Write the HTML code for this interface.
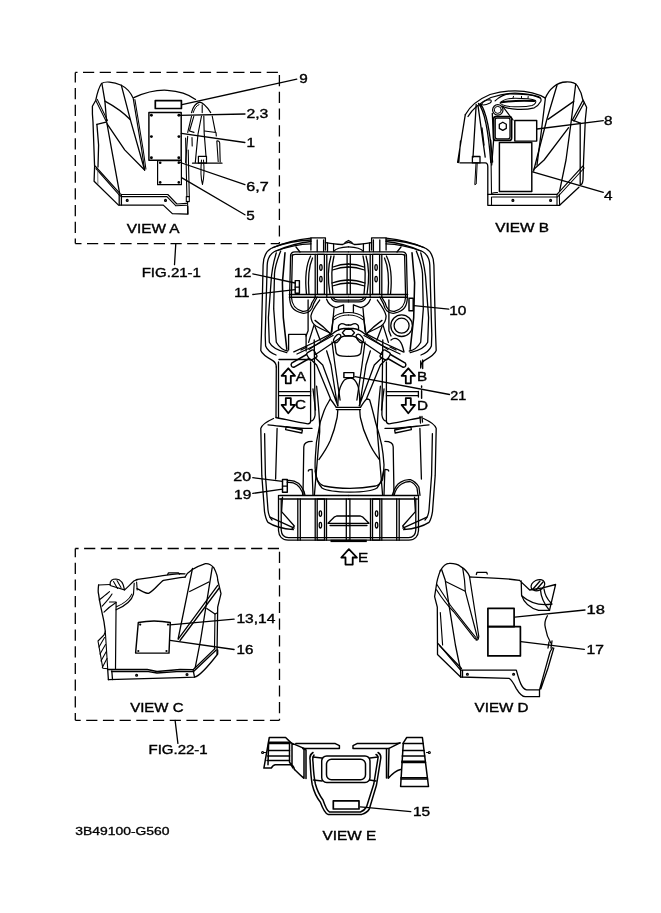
<!DOCTYPE html>
<html><head><meta charset="utf-8"><style>
html,body{margin:0;padding:0;background:#fff;width:661px;height:913px;overflow:hidden}
svg{display:block}
text{font-family:"Liberation Sans",sans-serif;font-size:100px;fill:#000}
</style></head><body>
<svg width="661" height="913" viewBox="0 0 661 913">
<g fill="none" stroke="#000" stroke-width="1.3" stroke-linejoin="round" stroke-linecap="round">
<g stroke-width="1.3"><path d="M75.3 72.4 L279.4 72.4" stroke-dasharray="11.2 5.50" stroke-dashoffset="9.00" stroke-linecap="butt"/>
<path d="M279.4 72.4 L279.4 243.6" stroke-dasharray="11.2 5.50" stroke-dashoffset="14.00" stroke-linecap="butt"/>
<path d="M75.3 243.6 L279.4 243.6" stroke-dasharray="11.2 5.50" stroke-dashoffset="5.00" stroke-linecap="butt"/>
<path d="M75.3 72.4 L75.3 243.6" stroke-dasharray="11.2 5.50" stroke-dashoffset="1.00" stroke-linecap="butt"/>
<path d="M75.3 548.5 L279.5 548.5" stroke-dasharray="11.2 5.50" stroke-dashoffset="7.90" stroke-linecap="butt"/>
<path d="M279.5 548.5 L279.5 720.3" stroke-dasharray="11.2 5.50" stroke-dashoffset="13.40" stroke-linecap="butt"/>
<path d="M75.3 720.3 L279.5 720.3" stroke-dasharray="11.2 5.50" stroke-dashoffset="5.80" stroke-linecap="butt"/>
<path d="M75.3 548.5 L75.3 720.3" stroke-dasharray="11.2 5.50" stroke-dashoffset="2.50" stroke-linecap="butt"/></g>
<path d="M175.8 243.6 L174.5 264.7 M175.1 720.4 L177.9 743.4"/>
<path d="M182 104.7 L296.8 79.2 M178.9 115.3 L245 114 M181.4 133.4 L244.9 142.5 M178.8 162 L244.9 184.7 M182 177.9 L244.9 214.8"/>
<path d="M537 129 L603.3 120.7 M532.6 171.9 L603.3 192.4"/>
<path d="M252.8 273.9 L295.2 283 M252.8 294.5 L295.2 289.7 M414 305.7 L448.8 309.2 M355 376.6 L449.5 394.5 M252.8 477.7 L282.5 481.3 M252.8 493.4 L282.5 489.2"/>
<path d="M170 624.9 L234.1 619.1 M170 640.4 L234.1 649.5 M514.8 617.2 L585 610 M520.9 641.7 L584.3 649.4 M360.4 806.9 L410.8 811.7"/>
<g>
<path d="M101.5 83.5 C104.5 81.2 113 81.5 121.3 85.2 C127 88 131 93 133.2 98.3 L141.7 149.9 L144.6 170" stroke-width="1.15"/>
<path d="M134.9 99.6 L143.2 150 L145.9 169" stroke-width="1.05"/>
<path d="M101.5 83.5 C98.5 88 96.8 95 95.8 100.2 L92.4 106.2 C92.2 112 92.6 118 93 122 L94.6 166.6"/>
<path d="M102 84 L104.9 101.1 L106.6 121.5 L111.7 149.9 L119.6 193.2"/>
<path d="M104.9 101.1 C114 106 123 112 130.4 119.8"/>
<path d="M121.3 85.2 L130.4 119.8 L144.6 170"/>
<path d="M107.1 123.8 L124.7 149.9 L144.6 170"/>
<path d="M95.8 100.5 L106 121 M97.3 99.4 L107.5 120.4" stroke-width="1.05"/>
<path d="M96.9 124.4 L106 122.1"/>
<path d="M96.9 124.4 L98.6 145 L98 167"/>
<path d="M94.6 166.6 L94.1 181.3 L118.5 205.1 L163.3 205.1 L172.3 213.6 L187.7 214.2 L187.7 206.3"/>
<path d="M95.1 166 L120.3 193.9 L121.5 194.5 L167.8 194.5 L176.9 204 L186.5 203.4" stroke-width="1.15"/>
<path d="M96 168.6 L119.4 195.2 L121.5 196.6 L166.9 196.6 L176 205.8 L186.5 205.3" stroke-width="1.15"/>
<path d="M97.7 171 L97.9 183.6" stroke-width="1" stroke="#777"/>
<path d="M119.2 194.4 L119.2 205.1 M121.4 195.5 L121.4 205.1"/>
<circle cx="127.2" cy="200.4" r="0.9"/><circle cx="165.5" cy="200.4" r="0.9"/>
<path d="M133.8 97.7 C145 92.5 158 89.8 167.2 90.3 C179 91 189 94.5 195.6 99.4"/>
<rect x="155.3" y="100.6" width="26.1" height="7.9" stroke-width="1.7"/>
<rect x="148.9" y="112.4" width="32.3" height="47.9" stroke-width="1.45"/>
<rect x="157.6" y="160.6" width="23.8" height="24.1" stroke-width="1.2"/>
<g fill="#000" stroke="none">
<circle cx="151.4" cy="115.3" r="1.45"/><circle cx="178.9" cy="115.3" r="1.45"/>
<circle cx="151.4" cy="136.6" r="1.45"/><circle cx="178.9" cy="136.6" r="1.45"/>
<circle cx="151.4" cy="157.7" r="1.45"/><circle cx="178.8" cy="157.7" r="1.45"/>
<circle cx="160.2" cy="162.8" r="1.3"/><circle cx="178.8" cy="162.8" r="1.3"/>
<circle cx="160.2" cy="182.4" r="1.3"/><circle cx="178.8" cy="182.4" r="1.3"/>
</g>
<path d="M185.6 138 L186.9 196.6 M188.2 150 L189.3 196.6 M187.5 201.4 L188 214" stroke-width="1.1"/>
<rect x="186.3" y="196.6" width="3" height="5" stroke-width="1.1"/>
<path d="M191.5 112.6 C193 107 196 103.2 199.5 102.2 C203 102.5 207 107 210.7 112.6" stroke-width="1.2"/>
<path d="M193.2 112.6 C194.5 108.5 196.5 105.5 199 104.6" stroke-width="1"/>
<path d="M202.2 104.9 L202.2 112.6" stroke-width="1.1"/>
<path d="M191.5 116.4 L187.7 132.5 M193.8 116.4 L189.5 131 L194 132.4" stroke-width="1.1"/>
<path d="M201.5 116 L198 134 L195.3 162.4" stroke-width="1.15"/>
<path d="M203.8 116 L204.2 133.3 L206 156.3" stroke-width="1.15"/>
<path d="M212.2 116 L215.3 131.7 M204.5 131 L216 132.5 L216.3 136" stroke-width="1.15"/>
<path d="M187.7 136.3 L185.6 162.4 M192 137.5 L192.2 146" stroke-width="1.1"/>
<path d="M216.8 141 C218.5 140.5 219.5 141.5 219.7 143 L220.2 162 M216.8 141 L218.2 161.5" stroke-width="1.1"/>
<path d="M192.5 163.2 L222 163.2" stroke-width="1.2"/>
<rect x="198.4" y="156.3" width="8.1" height="6.9" stroke-width="1.2"/>
<path d="M201.5 160 C200.5 170 201 179 202.5 184.5 C204 178 204.3 168 203.5 160" stroke-width="1.05"/>
</g>
<g>
<path d="M465.3 114.7 C470 106 478 99.5 490 94.5 C500 91.5 508 90.8 515 90.8 C528 91 538 93.5 545.4 98.1"/>
<path d="M468 116.5 C473 108 480 102.5 491 97.5 C500 94.5 508 93.2 515 93.2 C526 93.4 534 95.3 540 98"/>
<path d="M465.3 114.7 L457.6 162.3 M460.5 141 L458.8 162.5"/>
<path d="M476.2 104.4 L473 157.2 M478 105.7 L485.2 157.2"/>
<path d="M478.5 103.5 C484 110 488 125 490.8 162.5 M480.5 104 C486 111 489.8 126 492.6 162"/>
<path d="M482 128 L484 145"/>
<rect x="472.4" y="156.5" width="7.6" height="6.4"/>
<path d="M476 163 L474.8 184.7 L476.2 184 L477.2 163" stroke-width="1"/>
<path d="M460.1 162.9 L485.2 162.9 Q487.8 163 487.8 166.7 L487.8 205.3 L559.6 205.3 L578.9 187.3"/>
<path d="M487.8 194.4 L557 194.4 L582.7 166.1" stroke-width="1.2"/>
<path d="M492.5 197 L557.5 197 L584.2 168" stroke-width="1.1"/>
<path d="M557 194.4 L557 205.3 M559.3 194 L559.6 205.3" stroke-width="1.1"/>
<path d="M490.8 140 L491.5 193.5 C493 192.8 495 192.3 497.5 192.5 M491.5 197 L491.5 205.3" stroke-width="1.1"/>
<circle cx="512.9" cy="200.4" r="0.9"/><circle cx="550.6" cy="200.4" r="0.9"/>
<path d="M495.1 100.9 C500 96 505 94 510 93.8 C520 93.8 532 94.5 538.5 96.6 C541 97.5 541.5 100 540.7 101.5 C539 104.5 537 106.5 534.3 107.8 C528 109.5 522 109.6 517.4 109.4 C511 109 506 108 502.5 106.2" stroke-width="1.2"/>
<path d="M500 103 C503 99.5 508 98.2 515 98.2 C524 98.2 532 98.8 535.5 100.5 C536.5 102 535 104.5 532 105.6 C526 107 518 107 510 106.5 C505 106 501.5 105 500 103" stroke-width="1.05"/>
<path d="M501.5 102.2 C510 101 525 100.6 534.3 101" stroke-width="2"/>
<path d="M513 98 L513.5 96.3 M521.5 98 L521.5 96.3 M528 98.2 L528.2 96.5" stroke-width="1"/>
<path d="M481.4 104.6 C483 101.5 487 99.8 490 99.8 C492 100.2 491.5 102 490 103 C487 104.5 483.5 105.5 481.4 104.6" stroke-width="1.1"/>
<circle cx="497.8" cy="109.9" r="5.2" stroke-width="1.2"/><circle cx="497.8" cy="109.9" r="3.5" stroke-width="1"/>
<path d="M502.5 106.2 L513.1 120" stroke-width="1.2"/>
<rect x="493.6" y="116.6" width="18" height="23.8" rx="2.5" stroke-width="1.7"/>
<rect x="495.2" y="118.2" width="14.8" height="20.6" rx="1.8"/>
<path d="M502.8 122.2 L506.3 124.3 L506.3 128.4 L502.8 130.4 L499.3 128.4 L499.3 124.3 Z"/>
<rect x="514.8" y="120.5" width="21.9" height="20.6" stroke-width="1.45"/>
<rect x="499.4" y="142.4" width="32.4" height="49" stroke-width="1.45"/>
<path d="M492.3 113.4 L493.6 140.4 L491.7 165"/>
<path d="M545.4 98.1 C549 89 557 82.2 566 82 C571 81.8 575.5 83 577.5 86 C580 90 582 95 582.7 99.4 L586.6 107.2 L585.3 120 L583.6 160 L583 180 C582.5 184 581.5 185 580.2 184.5 L580.2 123.2"/>
<path d="M545.4 98.1 L541.5 130 L537 165"/>
<path d="M557 85.3 L546.7 120 L536.4 160 L533.6 171"/>
<path d="M575.7 84 L571.2 121.3 L566 160 L559.6 191.2"/>
<path d="M573.7 101.4 L548 119.4"/>
<path d="M582.7 100.7 L572.4 120 M584.3 102.5 L574 121.3"/>
<path d="M572.4 120 L580.2 123.2"/>
<path d="M568.6 127.7 L544.1 160 L533.9 169.3"/>
</g>
<g>
<path d="M310.9 238.2 C298 239.5 282 243.5 271 248.5 C265.5 251.5 263.4 257 263.1 265 L262.3 300 L261.4 335 L260.8 350.5 C262.5 355 268 358 272.8 360.6 C275 362 276.3 364 276.3 367"/>
<path d="M311 241.5 C298 242.8 285 247 274.5 251.5 C270 254 267.6 258 267.2 265 L266.2 300 L265.2 335 L265.6 346 C267.5 351 271 353 276 355"/>
<path d="M276.3 252.8 C273.5 262 271.5 272 271 282.6 L268.4 317.6 L269.3 342.2 C272 348 280 351 286.8 352.7"/>
<path d="M280.7 251 C277.5 259 275 266 274.5 273.8 L273.7 308.9 L276.3 342.2 C279 347 283 350 287.7 351"/>
<path d="M285 252.8 L282.4 282.6 L283.3 317.6 L286.8 349.2" stroke-width="1.55"/>
<path d="M272.8 247.5 C286 242.5 298 240.5 311 240 M276 251 C288 246.5 300 244 311 243.8 M296 247 L300 252"/>
<path d="M310.9 250 L310.9 237.8 L325.4 237.8 L325.4 250"/>
<path d="M317.2 240 L317.2 251.5 M323.6 240 L323.6 251.5"/>
<path d="M325.4 242.7 C332 243.5 338 244.5 342.6 244.5 C345 243 347 242.5 348.5 242.3"/>
<path d="M327.5 243 L327.5 251.5 M333.6 244 L333.6 251.5"/>
<path d="M333.6 251.5 C336 248 340 247 348.5 246.8"/>
<path d="M290.6 255 L289.6 297 C289.8 306 292.5 311 302.6 313.2 C309 314 312.5 309 313.6 303.6 L317.2 297"/>
<path d="M292.4 255 L291.4 297 C291.8 304.5 294.5 309 302.6 311.4 C307.5 312 310.8 308 311.8 303 L315.4 297"/>
<path d="M290.6 256 Q290.6 251.8 295 251.8 L348.5 251.8 M292.4 256 Q292.4 254.4 295.5 254.4 L348.5 254.4"/>
<path d="M289.4 294.4 L348.5 294.4 M289.4 297.2 L348.5 297.2" stroke-width="1.45"/>
<rect x="317.4" y="254.4" width="7" height="40"/>
<path d="M315.2 254.4 L315.2 297 M326.8 254.4 L326.8 297"/>
<ellipse cx="320.9" cy="267.5" rx="1.2" ry="2.8"/><ellipse cx="320.9" cy="279.1" rx="1.2" ry="2.8"/>
<path d="M331 256 C328 266 328 282 330 294.4 M334 256 C331.5 266 331.5 282 333 294.4"/>
<path d="M333 267 C338 265 343 264 348.5 264 M332.5 270 C338 268 343 267 348.5 267"/>
<path d="M332 283 C338 281 343 280 348.5 280 M332.5 286 C338 284 343 283 348.5 283"/>
<path d="M331 297.2 C332 300 334 301.8 338 301.8 L348.5 301.8 M333 297.2 C334 299 335.5 300.2 338 300.2 L348.5 300.2"/>
<path d="M310.6 256 C306 265 305 280 306.5 294.4 M312.5 258 C308.5 267 308 282 309 294.4"/>
<path d="M326.6 299.2 C328 303 331 306.5 336.2 307.7 L343.6 304.8 L343.6 312.5"/>
<path d="M333.5 317.2 C337 314 342 312.5 348.5 312.5 M334.2 319.6 C338 316.6 342 315 348.5 315" stroke-width="1.15"/>
<path d="M333.5 317.2 L330.9 334.2"/>
<path d="M338.8 330 C338 327 338.5 324.5 341 323.8 C343 323.4 345 324.5 346 325 L348.5 325"/>
<path d="M334.6 341.6 L336.2 353 C337 355.5 340 356.4 346.8 356.4 L348.5 356.4"/>
<path d="M315 320.4 C320 324 326 329 330.9 334.2"/>
<path d="M309 349.5 L331.9 334.2 C335 331.5 340 328.8 344 328.5 L348.5 328.3"/>
<path d="M315.5 354.5 L338.5 339 C340.5 337 343 335.8 348.5 335.6"/>
<ellipse cx="337.2" cy="338.4" rx="2.6" ry="4.8" transform="rotate(35 337.2 338.4)"/>
<path d="M291.6 363.2 L306.5 354.5 M293.8 367.3 L309.2 358.5 M291.6 363.2 C290.5 365 291.5 367.5 293.8 367.3" stroke-width="1.45"/>
<rect x="307.6" y="350.8" width="8.4" height="8.4" rx="1.8" transform="rotate(-30 311.8 355)"/>
<path d="M293.8 351.9 L313 343 L330.8 333.9 M297 354 L316 345 L333 335.5"/>
<path d="M301 350 L307 347"/>
<path d="M310.7 359.3 L316.6 365 L330.3 398.3 M314.9 357.5 L322.7 365 L337.8 405.8 M326.6 350.8 L331 365 L337 403 M332 342 L335 365 L340.1 400"/>
<path d="M319.7 300 C316 305 311.5 311 310.9 316 C311 321 313 324 316 326 C321 329 326 331 329.8 333"/>
<path d="M308.1 300 L308.1 330.7 L306 336"/>
<path d="M313.9 325.4 L308.6 342.4 M315 326.5 L320.2 340.2"/>
<path d="M334 308.5 L331.9 331.8"/>
<path d="M310.6 362 L310.6 421.2 M314.2 340 L315.1 415 C314.5 419 313 421 310.6 421.2"/>
<path d="M279 391.6 L310.6 391.6 M279 395.7 L310.6 395.7"/>
<path d="M276 417.5 C286 419.5 298 422.5 307.9 423.9 C310 423.5 310.6 422.5 310.6 421.2"/>
<path d="M273.5 418.5 C268 421 262 424 260.8 428.4 L261.8 475.4 L264.5 511.6 C265.5 518 267 521 268 522.4 C275 527 285 529 293.4 529.7"/>
<path d="M264.6 433.6 L265.4 475 L268 510 C268.5 515 270 518 272 520"/>
<path d="M277.1 428.4 L275.6 479"/>
<path d="M268 424.8 C280 426 295 428.4 304.2 428.4 L312 428.4"/>
<path d="M286.2 426.6 L302.4 430 L301.8 433 L285.6 429.6 Z"/>
<path d="M303.8 446.7 C304 443 307 441.4 312.1 441.4 M303.8 446.7 L303 495.3"/>
<path d="M308.3 471 C308.3 469.5 310 469.4 312.1 469.4 L313 495.3"/>
<path d="M316.6 386.2 C318 400 320 420 319.7 431.6 L314.4 495.1 M313 389 L315.5 410"/>
<path d="M282.5 497.1 L281.6 511.6 L294.3 526 L292 529"/>
<path d="M270 517.2 L294.2 528.1"/>
<path d="M279.7 495.4 L348.5 495.4 M279.7 499 L348.5 499" stroke-width="1.45"/>
<path d="M278.5 495.4 L278.5 530.5 C278.8 536 282 540.2 288.2 540.2 L348.5 540.2"/>
<path d="M281.2 499 L281.2 530 C281.5 534.5 284 537.5 288.5 537.6 L348.5 537.6"/>
<path d="M297.8 499 L297.8 540.2 M300.3 499 L300.3 540.2"/>
<rect x="317.2" y="499" width="7.3" height="41.2"/>
<path d="M315.2 499 L315.2 540.2 M326.5 499 L326.5 540.2"/>
<ellipse cx="320.4" cy="513.6" rx="1.2" ry="2.8"/><ellipse cx="320.4" cy="525.2" rx="1.2" ry="2.8"/>
<path d="M328 523.3 L334.1 517.2 L336.6 516 L348.5 516 M330 525.5 L348.5 525.5 M328 523.3 L348.5 523.3"/>
</g>
<g transform="translate(697,0) scale(-1,1)">
<path d="M310.9 238.2 C298 239.5 282 243.5 271 248.5 C265.5 251.5 263.4 257 263.1 265 L262.3 300 L261.4 335 L260.8 350.5 C262.5 355 268 358 272.8 360.6 C275 362 276.3 364 276.3 367"/>
<path d="M311 241.5 C298 242.8 285 247 274.5 251.5 C270 254 267.6 258 267.2 265 L266.2 300 L265.2 335 L265.6 346 C267.5 351 271 353 276 355"/>
<path d="M276.3 252.8 C273.5 262 271.5 272 271 282.6 L268.4 317.6 L269.3 342.2 C272 348 280 351 286.8 352.7"/>
<path d="M280.7 251 C277.5 259 275 266 274.5 273.8 L273.7 308.9 L276.3 342.2 C279 347 283 350 287.7 351"/>
<path d="M285 252.8 L282.4 282.6 L283.3 317.6 L286.8 349.2" stroke-width="1.55"/>
<path d="M272.8 247.5 C286 242.5 298 240.5 311 240 M276 251 C288 246.5 300 244 311 243.8 M296 247 L300 252"/>
<path d="M310.9 250 L310.9 237.8 L325.4 237.8 L325.4 250"/>
<path d="M317.2 240 L317.2 251.5 M323.6 240 L323.6 251.5"/>
<path d="M325.4 242.7 C332 243.5 338 244.5 342.6 244.5 C345 243 347 242.5 348.5 242.3"/>
<path d="M327.5 243 L327.5 251.5 M333.6 244 L333.6 251.5"/>
<path d="M333.6 251.5 C336 248 340 247 348.5 246.8"/>
<path d="M290.6 255 L289.6 297 C289.8 306 292.5 311 302.6 313.2 C309 314 312.5 309 313.6 303.6 L317.2 297"/>
<path d="M292.4 255 L291.4 297 C291.8 304.5 294.5 309 302.6 311.4 C307.5 312 310.8 308 311.8 303 L315.4 297"/>
<path d="M290.6 256 Q290.6 251.8 295 251.8 L348.5 251.8 M292.4 256 Q292.4 254.4 295.5 254.4 L348.5 254.4"/>
<path d="M289.4 294.4 L348.5 294.4 M289.4 297.2 L348.5 297.2" stroke-width="1.45"/>
<rect x="317.4" y="254.4" width="7" height="40"/>
<path d="M315.2 254.4 L315.2 297 M326.8 254.4 L326.8 297"/>
<ellipse cx="320.9" cy="267.5" rx="1.2" ry="2.8"/><ellipse cx="320.9" cy="279.1" rx="1.2" ry="2.8"/>
<path d="M331 256 C328 266 328 282 330 294.4 M334 256 C331.5 266 331.5 282 333 294.4"/>
<path d="M333 267 C338 265 343 264 348.5 264 M332.5 270 C338 268 343 267 348.5 267"/>
<path d="M332 283 C338 281 343 280 348.5 280 M332.5 286 C338 284 343 283 348.5 283"/>
<path d="M331 297.2 C332 300 334 301.8 338 301.8 L348.5 301.8 M333 297.2 C334 299 335.5 300.2 338 300.2 L348.5 300.2"/>
<path d="M310.6 256 C306 265 305 280 306.5 294.4 M312.5 258 C308.5 267 308 282 309 294.4"/>
<path d="M326.6 299.2 C328 303 331 306.5 336.2 307.7 L343.6 304.8 L343.6 312.5"/>
<path d="M333.5 317.2 C337 314 342 312.5 348.5 312.5 M334.2 319.6 C338 316.6 342 315 348.5 315" stroke-width="1.15"/>
<path d="M333.5 317.2 L330.9 334.2"/>
<path d="M338.8 330 C338 327 338.5 324.5 341 323.8 C343 323.4 345 324.5 346 325 L348.5 325"/>
<path d="M334.6 341.6 L336.2 353 C337 355.5 340 356.4 346.8 356.4 L348.5 356.4"/>
<path d="M315 320.4 C320 324 326 329 330.9 334.2"/>
<path d="M309 349.5 L331.9 334.2 C335 331.5 340 328.8 344 328.5 L348.5 328.3"/>
<path d="M315.5 354.5 L338.5 339 C340.5 337 343 335.8 348.5 335.6"/>
<ellipse cx="337.2" cy="338.4" rx="2.6" ry="4.8" transform="rotate(35 337.2 338.4)"/>
<path d="M291.6 363.2 L306.5 354.5 M293.8 367.3 L309.2 358.5 M291.6 363.2 C290.5 365 291.5 367.5 293.8 367.3" stroke-width="1.45"/>
<rect x="307.6" y="350.8" width="8.4" height="8.4" rx="1.8" transform="rotate(-30 311.8 355)"/>
<path d="M293.8 351.9 L313 343 L330.8 333.9 M297 354 L316 345 L333 335.5"/>
<path d="M301 350 L307 347"/>
<path d="M310.7 359.3 L316.6 365 L330.3 398.3 M314.9 357.5 L322.7 365 L337.8 405.8 M326.6 350.8 L331 365 L337 403 M332 342 L335 365 L340.1 400"/>
<path d="M319.7 300 C316 305 311.5 311 310.9 316 C311 321 313 324 316 326 C321 329 326 331 329.8 333"/>
<path d="M308.1 300 L308.1 330.7 L306 336"/>
<path d="M313.9 325.4 L308.6 342.4 M315 326.5 L320.2 340.2"/>
<path d="M334 308.5 L331.9 331.8"/>
<path d="M310.6 362 L310.6 421.2 M314.2 340 L315.1 415 C314.5 419 313 421 310.6 421.2"/>
<path d="M279 391.6 L310.6 391.6 M279 395.7 L310.6 395.7"/>
<path d="M276 417.5 C286 419.5 298 422.5 307.9 423.9 C310 423.5 310.6 422.5 310.6 421.2"/>
<path d="M273.5 418.5 C268 421 262 424 260.8 428.4 L261.8 475.4 L264.5 511.6 C265.5 518 267 521 268 522.4 C275 527 285 529 293.4 529.7"/>
<path d="M264.6 433.6 L265.4 475 L268 510 C268.5 515 270 518 272 520"/>
<path d="M277.1 428.4 L275.6 479"/>
<path d="M268 424.8 C280 426 295 428.4 304.2 428.4 L312 428.4"/>
<path d="M286.2 426.6 L302.4 430 L301.8 433 L285.6 429.6 Z"/>
<path d="M303.8 446.7 C304 443 307 441.4 312.1 441.4 M303.8 446.7 L303 495.3"/>
<path d="M308.3 471 C308.3 469.5 310 469.4 312.1 469.4 L313 495.3"/>
<path d="M316.6 386.2 C318 400 320 420 319.7 431.6 L314.4 495.1 M313 389 L315.5 410"/>
<path d="M282.5 497.1 L281.6 511.6 L294.3 526 L292 529"/>
<path d="M270 517.2 L294.2 528.1"/>
<path d="M279.7 495.4 L348.5 495.4 M279.7 499 L348.5 499" stroke-width="1.45"/>
<path d="M278.5 495.4 L278.5 530.5 C278.8 536 282 540.2 288.2 540.2 L348.5 540.2"/>
<path d="M281.2 499 L281.2 530 C281.5 534.5 284 537.5 288.5 537.6 L348.5 537.6"/>
<path d="M297.8 499 L297.8 540.2 M300.3 499 L300.3 540.2"/>
<rect x="317.2" y="499" width="7.3" height="41.2"/>
<path d="M315.2 499 L315.2 540.2 M326.5 499 L326.5 540.2"/>
<ellipse cx="320.4" cy="513.6" rx="1.2" ry="2.8"/><ellipse cx="320.4" cy="525.2" rx="1.2" ry="2.8"/>
<path d="M328 523.3 L334.1 517.2 L336.6 516 L348.5 516 M330 525.5 L348.5 525.5 M328 523.3 L348.5 523.3"/>
</g>
<path d="M347.1 254.4 L347.1 294.4 M350.3 254.4 L350.3 294.4" />
<path d="M346.3 499 L346.3 540.2 M349.9 499 L349.9 540.2"/>
<path d="M342.4 332.7 L345.4 329.3 L351.4 329.3 L354.5 332.7 L351.4 336.1 L345.4 336.1 Z"/>
<rect x="343.9" y="372.6" width="9.9" height="5" stroke-width="1.45"/>
<path d="M345 242.5 L348.5 240.5 L352 242.5"/>
<rect x="330.5" y="539.7" width="36.3" height="2.4" fill="#000" stroke="none"/>
<path d="M337.8 405.8 C338 396 339 391 340.1 387.7 C342 383 344 380 345.4 379.4 C347 378 351 378 353 378.6 C355 380 357 383 358.2 386.9 C359.5 392 359.8 398 359.8 405.8"/>
<path d="M336.3 407.4 L360.5 407.4 M336.3 409.6 L360.5 409.6"/>
<path d="M330.3 399 C328 403 326 406 324.2 410.4 C321 418 319 426 318.2 433.1 C316.5 440 316 445 315.9 449.7 C315.2 458 315 463 315.1 467.9 C315.5 472 316.2 477 317.4 480 C319 483 321 485 324.2 486 C333 487.8 342 488.3 350 488.3 C358 488.3 367 487.5 375.6 486 C379 485 381 482.5 382.5 480 C383.5 475 384 470 384 464.8 C383.5 457 382.8 451 381.7 445.2 C380 437 378 430 375.6 422.5 C373.5 414 371.5 406 369.6 399.8 C368.8 399.3 367.5 399 366.6 399"/>
<path d="M330.3 399 C332 401 334 404 336.3 407.4 M366.6 399 C364.5 401 362.5 404 360.5 407.4"/>
<path d="M337.8 410 C337.5 414 337.3 417 337 418 C335 428 333 434 330.3 440.6 C327 448 323 454 318.9 459.6"/>
<path d="M359.8 410 C360 414 360.2 417 360.5 418 C362.5 428 365 434 368.1 440.6 C371 448 375 454 379.4 459.6"/>
<path d="M315.1 470.9 C316 478 318.5 484.5 322 488 C326 490.5 335 492 350 492.1 C365 492 373 490.5 377 488 C380 484.5 382.5 478 383.5 470.9"/>
<path d="M278.5 362 L278.5 417.5 M279 359.5 L310.6 359.5 M418.4 391.4 L418.4 397"/>

<path d="M276.3 367 L276 417.5"/>
<path d="M420.7 361 L420.7 368 M422.7 360 L422.7 368.6 M420 416.5 L420.5 423 M422 416.5 L422.5 422"/>

<path d="M288.6 334.3 L306.1 334.3 L306.1 351 M288.6 334.3 L288.6 350"/>
<path d="M391 340 C396 336 401 340 403 348 L404 352"/>

<rect x="295.2" y="280.6" width="4.2" height="12.7" stroke-width="1.45"/>
<path d="M295.2 287.2 L299.4 287.2"/>
<rect x="282.5" y="479.5" width="4.8" height="12.7" stroke-width="1.45"/>
<path d="M282.5 486.2 L287.3 486.2"/>
<path d="M287.3 480.5 C296 479.5 301 484 304.1 491.6 L305 495.3 M287.3 482.5 C295 481.8 299.5 485.5 302.3 492 L303 495.3"/>
<path d="M392.2 495.4 C394 489 397 484 400.7 482.1 C404 480 408 479.5 410.4 479.7 C414 481 417 484 418.9 487 L420 495.4 M394 495.4 C395.5 490 398 486 401.5 484 C404.5 482 407.5 481.5 410 481.5 C413 482.5 415.5 485 417 488 L418 495.4"/>
<rect x="409" y="298.2" width="4.2" height="12.5" stroke-width="1.45"/>
<circle cx="401.6" cy="325.7" r="10.8"/><circle cx="401.6" cy="325.7" r="7.5"/>
<path d="M421.6 386 L421.6 387.2 M421.6 390.8 L421.6 398.2" stroke-width="1.45"/>
<path d="M288.3 368.3 L295 375.8 L290.8 375.8 L290.8 383.3 L285.8 383.3 L285.8 375.8 L281.6 375.8 Z" stroke-width="1.8"/>
<path d="M285.8 398.2 L290.8 398.2 L290.8 404.9 L295 404.9 L288.3 413.2 L281.6 404.9 L285.8 404.9 Z" stroke-width="1.8"/>
<path d="M408.3 368.3 L415 375.8 L410.8 375.8 L410.8 383.3 L405.8 383.3 L405.8 375.8 L401.6 375.8 Z" stroke-width="1.8"/>
<path d="M405.8 398.2 L410.8 398.2 L410.8 404.9 L415 404.9 L408.3 413.2 L401.6 404.9 L405.8 404.9 Z" stroke-width="1.8"/>
<path d="M348.9 549.1 L356.9 557.5 L352.7 557.5 L352.7 564.6 L345.5 564.6 L345.5 557.5 L341.3 557.5 Z" stroke-width="1.8"/>
<g>
<path d="M136.3 579.7 C150 577.5 165 575 180 573.6 L185 573.8"/>
<path d="M167.6 574.5 L168.5 572.9 L178.5 572.9 L179.5 574"/>
<path d="M137 588.6 C142 591 145 593.4 148.6 593.4 C155 590 160 582 163.5 580.4 L180 577.7 L185 577.2"/>
<path d="M98.6 585 C98 590 98.2 593 98.6 594.1 C100 605 102.5 614 104 621.8 L105.3 631.4"/>
<path d="M98.6 585 L110.1 584.5" stroke-width="1.2"/>
<path d="M110.1 584.5 C109.8 580.5 112.5 579 116 579 C120 579.2 123.5 583 124.5 589.9" stroke-width="1.2"/>
<path d="M113.5 581.5 L117.5 588.5 M117 580.5 L121 587.5" stroke-width="1.05"/>
<path d="M110.1 585.5 L124.5 589.9 C127 588 130.5 584 134.2 580.8 L137.5 579.6" stroke-width="1.2"/>
<path d="M99.2 600 C103 597 107 594 109.5 591.7 M102.2 606.1 C107 601 110 597.5 112 594 M104 612.2 C108 608 112 605 116.1 602.5" stroke-width="1.15"/>
<path d="M109.5 602 L116.1 602" stroke-width="1.1"/>
<path d="M134.2 583.3 L133.5 594 C132 600 126 605.5 116.1 609.8" stroke-width="1.15"/>
<path d="M131.8 594.1 C129.5 599 124 603.5 116.5 606.8" stroke-width="1.05"/>
<path d="M136.6 582 L137.2 589.9" stroke-width="1.1"/>
<path d="M116.1 602.5 L115.5 668.8" stroke-width="1.2"/>
<path d="M105.3 631.4 L104 635 L98 641 L102.8 668.2 L107.7 668.8 L105.3 631.4" stroke-width="1.1"/>
<path d="M99 647 L104.5 637.5 M100 654 L105.5 644.5 M101 661 L106.3 651.5 M102.3 667.5 L107 658.5" stroke-width="1.05"/>
<path d="M138.3 622.5 C148 620.5 160 620.5 170.3 622.5 L169 653.1 L135.6 653.1 Z" stroke-width="1.45"/>
<g fill="#000" stroke="none"><circle cx="140.2" cy="624.6" r="1.1"/><circle cx="168" cy="624.6" r="1.1"/><circle cx="138.3" cy="651" r="1.1"/><circle cx="166.5" cy="651" r="1.1"/></g>
<path d="M107.7 669.5 L147.2 669.5 L157 671.5 L180 669.5 L193.1 669.7 L214.9 648.6"/>
<path d="M111.5 671.5 L147 671.3 L157 673 L180 671.3 L193.6 671.5 L216.2 650"/>
<path d="M108.4 679.7 L180 677.7 L194.5 677.2 C200 676 210 664 217.7 654 L217.7 650"/>
<path d="M107.7 669.5 L108.4 679.7 M111.8 670.8 L112.5 679.5 M193.1 669.7 L194.5 677.2"/>
<circle cx="136.6" cy="675.3" r="0.9"/><circle cx="187" cy="674.5" r="0.9"/>
<path d="M185 577.2 C187 572 193 567.7 205.4 563.6 C209 563.3 212.2 565.7 214 568 C216 572 217.7 577 217.7 580 L221 593.6 L217.7 607.2 L217 654"/>
<path d="M215 614 L214.5 648.6" stroke-width="1.15"/>
<path d="M192.5 568.4 L178.2 638.5"/>
<path d="M212.2 567.7 L200.6 640 L195.2 667.7"/>
<path d="M208.8 582 L189.7 591.5"/>
<path d="M217.7 585.4 L178.2 639.2 M219.2 588 L180 640.5"/>
<path d="M206.8 608.5 L215 614 L217 613"/>
</g>
<g>
<path d="M440.2 570.9 C443 566 446 563.4 449.1 563.4 C454 563.2 458 564.5 460 566.1 C465 569 468 572.5 469.5 576.3"/>
<path d="M440.2 570.9 C438 577 436.8 582 436.5 584.5 L434.6 596.6 L437.3 607.2 L437.5 642.9"/>
<path d="M440.3 612.5 L442.6 645" stroke-width="1.15"/>
<path d="M441.6 569.5 L445.2 580 L448.6 602.7 L455.4 645 L460.6 670.2"/>
<path d="M462.7 568.2 L464.5 580 L465.3 591.3 L477.4 637.5 C477 639.8 476 640 475.6 638.5" stroke-width="1.2"/>
<path d="M469.5 576.3 L478.8 636.5 C478.5 639.5 477.5 640.5 476 640" stroke-width="1.2"/>
<path d="M445.6 581.5 L465.3 591.3" stroke-width="1.2"/>
<path d="M436.9 584.5 L450.2 605 C458 615 467 627 475.9 637.5" stroke-width="1.15"/>
<path d="M436.5 589.8 C441 597 446 604 453.5 611.5 L474.8 638.7" stroke-width="1.15"/>
<path d="M469.5 577 C485 577.5 505 578 519.5 580.4"/>
<path d="M476.3 574.5 L477 572.3 L486.6 572.3 L487.3 574"/>
<path d="M519.5 580.4 L529.7 590 L542.7 587.9 L555.6 584.5 L549.5 610.4 L538.6 610.4 C530 608 524 603 521.6 595.4 L521.2 581"/>
<ellipse cx="537.9" cy="585.2" rx="7.2" ry="5.2" transform="rotate(-25 537.9 585.2)"/>
<path d="M533 589 L540 581 M536 590 L543 582"/>
<path d="M540.5 590 C541 598 545 605 549.5 610.4 M544 589 C545 596 548 600 551 603"/>
<path d="M522 596 C530 603 540 606 552 604"/>
<path d="M547.4 615.8 C545 620 544.5 625 545.4 628 C546.5 635 549 640 550.8 643"/>
<path d="M552.4 647.7 L550 652 L546.3 665.4 L539.5 689.9 M553.8 648 L548 668 L540.8 689"/>
<path d="M548 648 L549 642 M551 648 L552 641"/>
<rect x="487.9" y="608.3" width="26.2" height="18.4" stroke-width="1.7"/>
<rect x="487.9" y="626.7" width="32.5" height="29.2" stroke-width="1.7"/>
<path d="M437.5 642.9 L437.5 654.5 L460.6 677 L509 678.3 C512 680 514 684 516.3 688.6 C519 693 522 696.7 525.2 696.7 L539.5 696.7 L539.5 689.9 L526.6 689.9 C522 689 519.5 682 516.3 670.2 L460.6 670.2 L438.2 643.6"/>
<path d="M439.5 645.5 L461.5 668.5"/>
<path d="M460.6 670.2 L460.6 677 M462.5 670.5 L462.5 677"/>
<circle cx="467.4" cy="674.3" r="0.9"/><circle cx="513.6" cy="674.3" r="0.9"/>
</g>
<g stroke-width="1.5">
<path d="M291.1 742.9 L285.6 737.5 L269.3 737.5 L263.9 768.1 L271.3 768.1 C272.5 766 273.5 764.7 275.4 764.7 L290.4 764.7 C292.5 765 294 767 294.5 769.5"/>
<circle cx="262.6" cy="752.5" r="1" stroke-width="1.2"/><path d="M263.6 752.5 L265.5 752.5" stroke-width="1.2"/>
<path d="M268.6 743.6 L289.5 743.6 M268 750.4 L289.5 750.4 M267.5 755.9 L289.5 755.9 M267 760.6 L289.5 760.6 M268.6 743.6 L268 764.7"/>
<path d="M268.6 742.2 L289.5 742.2"/>
<path d="M291.1 742.9 L304 748.4 L304 778.3 C300 775 297 772 294.5 769.5 M289.5 743 L289.5 762 L293 768 M292 743.6 L292 765"/>
<path d="M295.8 743.6 L335.3 743.6 L339.4 745.7 L339.4 748.4 L302.7 748.4"/>
<path d="M302.7 748.4 L306 750 L306 778.5"/>
<path d="M313 752.5 C310.5 754 309.5 757 310.1 760 C310.5 770 311 778 312.2 784.5 C314 792 317 798 320.4 802.2 C322.5 808 324.5 813 328 814.4 L361.8 814.4 C365 813.5 367.5 812 369.3 809 L376.5 785 L380.8 758 C381 755 380 753.5 378 752.5"/>
<path d="M314 755 C312.5 757 312.5 759 313 762 C313.5 772 314.3 779 315.4 784 C317 790 320 796 323 800 C325 806 327 811 329.5 812 L360.5 812 C363 811 365 809.5 366.5 807 L373.8 784 L378 758 C378 756 377.5 755 376 754.5"/>
<path d="M313 757 L321.7 758 M313.5 780 L322 781 M370 758 L378 757 M369.5 780 L376 781"/>
<rect x="321.7" y="755.9" width="48.3" height="26.5" rx="5" stroke-width="1.45"/>
<rect x="326.5" y="759.3" width="39" height="20.5" rx="5"/>
<rect x="333.3" y="800.8" width="25.7" height="8.2" stroke-width="1.7"/>
<path d="M406.7 737.5 L422.4 737.5 L428.5 786.5 L400.6 786.5 L403.3 742.9 L406.7 737.5"/>
<path d="M403 743.6 L423.2 743.6 M402.6 750.4 L424 750.4 M402.2 755.9 L424.7 755.9 M401.8 761.3 L425.3 761.3 M401 777.7 L427.3 777.7" />
<path d="M401.8 762.5 L425.5 762.5 M401 779 L427.5 779" />
<circle cx="429.3" cy="752.5" r="1" stroke-width="1.2"/><path d="M426.5 752.5 L428.3 752.5" stroke-width="1.2"/>
<path d="M389 748.4 L400 742.9 M388.3 778.3 C392 774 396 770.5 400.6 769.5 M389 748.4 L388.3 778.3 M386.5 749 L386.5 778"/>
<path d="M353 745.7 L357 743.6 L395.8 743.6 L400 742.9 M356.5 748.4 L389 748.4 M353 745.7 L353 748.4 L356.5 748.4"/>
</g>

</g>
<defs><filter id="gs" x="-0.05" y="-0.05" width="1.1" height="1.1"><feColorMatrix type="identity"/></filter></defs>
<g stroke="#000" stroke-width="3" paint-order="stroke" filter="url(#gs)">
<text transform="translate(299.24,82.70) scale(0.1530,0.1200)">9</text>
<text transform="translate(246.41,117.60) scale(0.1577,0.1200)">2,3</text>
<text transform="translate(246.48,147.40) scale(0.1530,0.1200)">1</text>
<text transform="translate(246.29,191.20) scale(0.1612,0.1200)">6,7</text>
<text transform="translate(246.19,220.30) scale(0.1530,0.1200)">5</text>
<text transform="translate(126.65,232.70) scale(0.1539,0.1200)">VIEW A</text>
<text transform="translate(141.70,276.50) scale(0.1503,0.1200)">FIG.21-1</text>
<text transform="translate(603.99,125.40) scale(0.1530,0.1200)">8</text>
<text transform="translate(603.99,199.50) scale(0.1530,0.1200)">4</text>
<text transform="translate(495.15,231.90) scale(0.1538,0.1200)">VIEW B</text>
<text transform="translate(234.07,276.90) scale(0.1541,0.1200)">12</text>
<text transform="translate(234.13,296.90) scale(0.1462,0.1200)">11</text>
<text transform="translate(449.26,315.40) scale(0.1545,0.1200)">10</text>
<text transform="translate(295.80,380.80) scale(0.1530,0.1200)">A</text>
<text transform="translate(295.04,409.00) scale(0.1530,0.1200)">C</text>
<text transform="translate(416.98,380.80) scale(0.1530,0.1200)">B</text>
<text transform="translate(416.98,409.90) scale(0.1530,0.1200)">D</text>
<text transform="translate(450.18,399.50) scale(0.1436,0.1200)">21</text>
<text transform="translate(233.30,481.30) scale(0.1598,0.1200)">20</text>
<text transform="translate(234.07,498.90) scale(0.1541,0.1200)">19</text>
<text transform="translate(357.88,561.60) scale(0.1530,0.1200)">E</text>
<text transform="translate(236.45,622.70) scale(0.1556,0.1200)">13,14</text>
<text transform="translate(236.49,653.60) scale(0.1515,0.1200)">16</text>
<text transform="translate(130.15,711.90) scale(0.1503,0.1200)">VIEW C</text>
<text transform="translate(148.50,754.30) scale(0.1503,0.1200)">FIG.22-1</text>
<text transform="translate(586.47,613.90) scale(0.1657,0.1200)">18</text>
<text transform="translate(586.55,653.70) scale(0.1561,0.1200)">17</text>
<text transform="translate(474.55,711.90) scale(0.1520,0.1200)">VIEW D</text>
<text transform="translate(412.96,815.80) scale(0.1545,0.1200)">15</text>
<text transform="translate(322.55,840.00) scale(0.1533,0.1200)">VIEW E</text>
<text transform="translate(75.34,835.40) scale(0.1391,0.1100)">3B49100-G560</text>
</g>
</svg></body></html>
